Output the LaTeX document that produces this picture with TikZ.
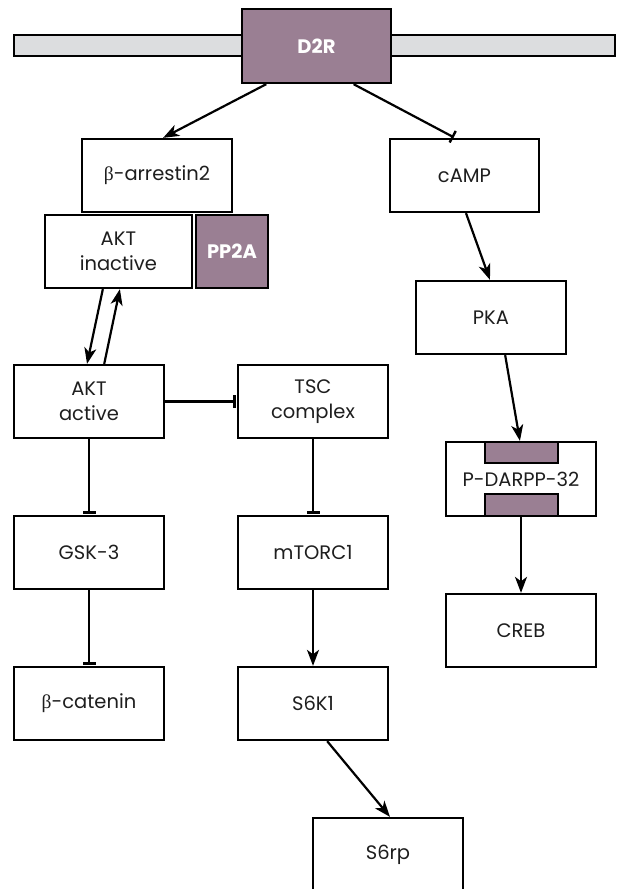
\documentclass[tikz,border=0pt]{standalone}
\usepackage{fontspec}
\setmainfont{Poppins}
\newfontfamily\greekfont{Liberation Serif}
\newcommand{\bet}{{\greekfont β}}
\usetikzlibrary{arrows.meta,calc}
\definecolor{mauve}{HTML}{9A7F93}
\definecolor{memb}{HTML}{DCDDDF}
\definecolor{ink}{HTML}{1E1E1E}
\begin{document}
\begin{tikzpicture}[x=1pt,y=-1pt,
  box/.style={draw=black, line width=2.3pt, fill=white, inner sep=0pt, align=center,
    font=\fontsize{19.5}{25}\selectfont, text=ink, minimum width=150pt, minimum height=73pt},
  darkbox/.style={draw=black, line width=2.3pt, fill=mauve, inner sep=0pt, align=center,
    font=\fontsize{19.5}{22}\selectfont\bfseries, text=white},
  inbar/.style={draw=black, line width=2.3pt, fill=mauve, inner sep=0pt, minimum width=73pt},
  act/.style={line width=2.2pt, -{Stealth[length=16pt,width=12pt,inset=4.5pt]}},
  inh/.style={line width=2.2pt, -{Bar[width=13pt,line width=2.4pt]}, shorten >=1.2pt}
]
\useasboundingbox (0,0) rectangle (617,889);
% membrane and receptor
\node[draw=black, line width=2.3pt, fill=memb, minimum width=601pt, minimum height=21pt, inner sep=0pt] (membrane) at (314.5,45.5) {};
\node[darkbox, minimum width=149pt, minimum height=74pt] (d2r) at (316.5,46) {D2R};
% boxes
\node[box] (barr) at (157,175.5) {\bet-arrestin2};
\node[box, minimum width=149pt] (camp) at (464.5,175.5) {cAMP};
\node[box, minimum width=147.3pt] (aktin) at (118.4,251.5) {AKT\\inactive};
\node[darkbox, minimum width=72pt, minimum height=73pt] (pp2a) at (232,251.5) {PP2A};
\node[box] (pka) at (491,317.5) {PKA};
\node[box] (aktac) at (89,401.5) {AKT\\active};
\node[box] (tsc) at (313,401.5) {TSC\\complex};
\node[box, minimum height=74pt] (darpp) at (521,479) {P-DARPP-32};
\node[inbar, minimum height=21pt] (darpptop) at (521.5,452.5) {};
\node[inbar, minimum height=22pt] (darppbot) at (521.5,505) {};
\node[box] (gsk) at (89,552.5) {GSK-3};
\node[box] (mtor) at (313,552.5) {mTORC1};
\node[box] (creb) at (521,630.5) {CREB};
\node[box] (bcat) at (89,703.5) {\bet-catenin};
\node[box] (s6k1) at (313,703.5) {S6K1};
\node[box] (s6rp) at (388,854.5) {S6rp};
% connectors
\draw[act] ($(d2r.south west)!0.168!(d2r.south east)$) -- ($(barr.north west)!0.54!(barr.north east)$);
\draw[inh] ($(d2r.south west)!0.745!(d2r.south east)$) -- ($(camp.north west)!0.436!(camp.north east)$);
\draw[act] ($(camp.south west)!0.51!(camp.south east)$) -- ($(pka.north west)!0.493!(pka.north east)$);
\draw[act] ($(pka.south west)!0.593!(pka.south east)$) -- ($(darpp.north west)!0.493!(darpp.north east)$);
\draw[act] (darpp.south) -- (creb.north);
\draw[act] ($(aktin.south west)!0.396!(aktin.south east)$) -- ($(aktac.north west)!0.487!(aktac.north east)$);
\draw[act] ($(aktac.north west)!0.6!(aktac.north east)$) -- ($(aktin.south west)!0.51!(aktin.south east)$);
\draw[inh] (aktac.east) -- (tsc.west);
\draw[inh] (aktac.south) -- (gsk.north);
\draw[inh] (gsk.south) -- (bcat.north);
\draw[inh] (tsc.south) -- (mtor.north);
\draw[act] (mtor.south) -- (s6k1.north);
\draw[act] ($(s6k1.south west)!0.593!(s6k1.south east)$) -- ($(s6rp.north west)!0.513!(s6rp.north east)$);
\end{tikzpicture}
\end{document}
